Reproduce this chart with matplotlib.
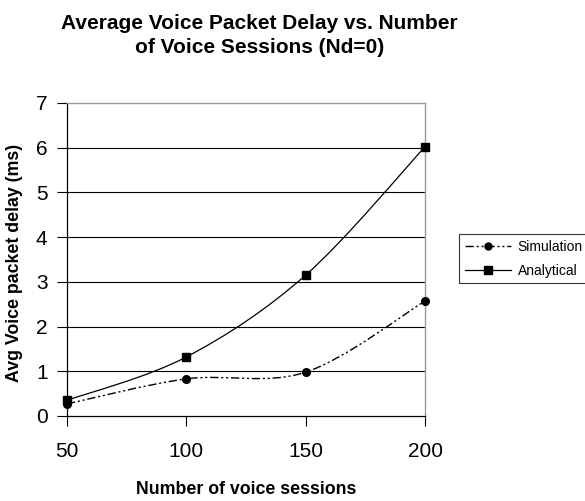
import matplotlib
matplotlib.use("Agg")
import matplotlib.pyplot as plt
import numpy as np
from matplotlib.path import Path
from matplotlib.patches import PathPatch
from matplotlib.lines import Line2D

plt.rcParams["font.family"] = ["Liberation Sans", "DejaVu Sans"]

sessions = [50, 100, 150, 200]
simulation = [0.27, 0.83, 0.98, 2.57]
analytical = [0.35, 1.32, 3.15, 6.02]

SIM_DASH = (0, (6, 2, 1.5, 2, 1.5, 2))


def smooth_path(x, y):
    """Catmull-Rom style Bezier path through the points (like a spreadsheet smoothed line)."""
    pts = np.column_stack([x, y]).astype(float)
    ext = np.vstack([pts[0], pts, pts[-1]])
    verts = [pts[0]]
    codes = [Path.MOVETO]
    for i in range(1, len(ext) - 2):
        p0, p1, p2, p3 = ext[i - 1], ext[i], ext[i + 1], ext[i + 2]
        c1 = p1 + (p2 - p0) / 6.0
        c2 = p2 - (p3 - p1) / 6.0
        verts += [c1, c2, p2]
        codes += [Path.CURVE4] * 3
    return Path(verts, codes)


fig = plt.figure(figsize=(5.85, 5.01), dpi=100)
ax = fig.add_axes([0.1145, 0.1697, 0.612, 0.6248])

for yv in range(1, 7):
    ax.axhline(yv, color="black", lw=0.8, zorder=1)

ax.add_patch(PathPatch(smooth_path(sessions, analytical), fill=False,
                       edgecolor="black", lw=0.9, zorder=3))
ax.add_patch(PathPatch(smooth_path(sessions, simulation), fill=False,
                       edgecolor="black", lw=1.0, linestyle=SIM_DASH, zorder=3))
ax.plot(sessions, analytical, linestyle="none", marker="s", ms=6,
        color="black", zorder=4, clip_on=False)
ax.plot(sessions, simulation, linestyle="none", marker="o", ms=5.5,
        color="black", zorder=4, clip_on=False)

ax.set_xlim(50, 200)
ax.set_ylim(0, 7)
ax.set_xticks(sessions)
ax.set_yticks(range(0, 8))
ax.tick_params(labelsize=15, length=7, width=0.8, direction="out")
ax.tick_params(axis="x", pad=12)
ax.tick_params(axis="y", pad=7)
for side in ("left", "bottom"):
    ax.spines[side].set_color("black")
    ax.spines[side].set_linewidth(0.9)
for side in ("right", "top"):
    ax.spines[side].set_color("#999999")
    ax.spines[side].set_linewidth(1.0)

ax.set_xlabel("Number of voice sessions", fontsize=12.8, fontweight="bold")
ax.xaxis.set_label_coords(0.5, -0.208)
ax.set_ylabel("Avg Voice packet delay (ms)", fontsize=12.8, fontweight="bold")
ax.yaxis.set_label_coords(-0.123, 0.49)

fig.text(0.443, 0.972, "Average Voice Packet Delay vs. Number\nof Voice Sessions (Nd=0)",
         ha="center", va="top", fontsize=15, fontweight="bold", linespacing=1.3)

handles = [
    Line2D([], [], color="black", lw=1.0, linestyle=SIM_DASH, marker="o", ms=5),
    Line2D([], [], color="black", lw=0.9, marker="s", ms=5.5),
]
leg = fig.legend(handles, ["Simulation", "Analytical"], loc="upper left",
                 bbox_to_anchor=(0.785, 0.533), fontsize=10, frameon=True,
                 fancybox=False, edgecolor="black", handlelength=3.3,
                 handletextpad=0.5, borderpad=0.4, labelspacing=0.75,
                 borderaxespad=0)
leg.get_frame().set_linewidth(0.8)

fig.savefig("out.png", dpi=100)
